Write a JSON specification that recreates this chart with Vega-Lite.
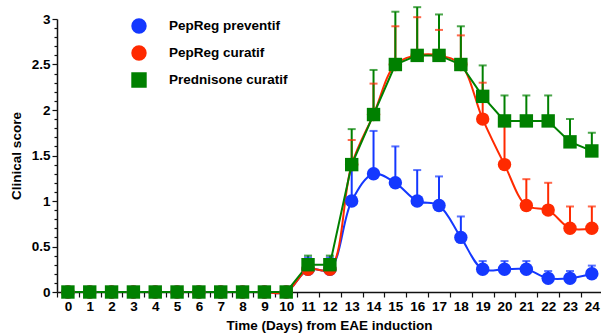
{
  "$schema": "https://vega.github.io/schema/vega-lite/v6.json",
  "autosize": {"type": "none"},
  "width": 544,
  "height": 273,
  "padding": {"left": 57, "top": 19, "right": 0, "bottom": 41},
  "background": "white",
  "config": {
    "view": {"stroke": null},
    "font": "Liberation Sans",
    "axis": {"labelFont": "Liberation Sans", "titleFont": "Liberation Sans", "labelFontWeight": "bold", "titleFontWeight": "bold", "labelFontSize": 13.5, "titleFontSize": 13.5, "labelColor": "#000", "titleColor": "#000", "domainColor": "#111", "tickColor": "#111", "domainWidth": 1.5, "tickWidth": 1.2, "grid": false}
  },
  "datasets": {
    "d": [
      {"series": "PepReg preventif", "day": 0, "mean": 0, "hi": null},
      {"series": "PepReg preventif", "day": 1, "mean": 0, "hi": null},
      {"series": "PepReg preventif", "day": 2, "mean": 0, "hi": null},
      {"series": "PepReg preventif", "day": 3, "mean": 0, "hi": null},
      {"series": "PepReg preventif", "day": 4, "mean": 0, "hi": null},
      {"series": "PepReg preventif", "day": 5, "mean": 0, "hi": null},
      {"series": "PepReg preventif", "day": 6, "mean": 0, "hi": null},
      {"series": "PepReg preventif", "day": 7, "mean": 0, "hi": null},
      {"series": "PepReg preventif", "day": 8, "mean": 0, "hi": null},
      {"series": "PepReg preventif", "day": 9, "mean": 0, "hi": null},
      {"series": "PepReg preventif", "day": 10, "mean": 0, "hi": null},
      {"series": "PepReg preventif", "day": 11, "mean": 0.25, "hi": 0.38},
      {"series": "PepReg preventif", "day": 12, "mean": 0.25, "hi": 0.38},
      {"series": "PepReg preventif", "day": 13, "mean": 1.0, "hi": 1.4},
      {"series": "PepReg preventif", "day": 14, "mean": 1.3, "hi": 1.77},
      {"series": "PepReg preventif", "day": 15, "mean": 1.2, "hi": 1.6},
      {"series": "PepReg preventif", "day": 16, "mean": 1.0, "hi": 1.34},
      {"series": "PepReg preventif", "day": 17, "mean": 0.95, "hi": 1.27},
      {"series": "PepReg preventif", "day": 18, "mean": 0.6, "hi": 0.83},
      {"series": "PepReg preventif", "day": 19, "mean": 0.25, "hi": 0.34},
      {"series": "PepReg preventif", "day": 20, "mean": 0.25, "hi": 0.34},
      {"series": "PepReg preventif", "day": 21, "mean": 0.25, "hi": 0.34},
      {"series": "PepReg preventif", "day": 22, "mean": 0.15, "hi": 0.23},
      {"series": "PepReg preventif", "day": 23, "mean": 0.15, "hi": 0.23},
      {"series": "PepReg preventif", "day": 24, "mean": 0.2, "hi": 0.29},
      {"series": "PepReg curatif", "day": 0, "mean": 0, "hi": null},
      {"series": "PepReg curatif", "day": 1, "mean": 0, "hi": null},
      {"series": "PepReg curatif", "day": 2, "mean": 0, "hi": null},
      {"series": "PepReg curatif", "day": 3, "mean": 0, "hi": null},
      {"series": "PepReg curatif", "day": 4, "mean": 0, "hi": null},
      {"series": "PepReg curatif", "day": 5, "mean": 0, "hi": null},
      {"series": "PepReg curatif", "day": 6, "mean": 0, "hi": null},
      {"series": "PepReg curatif", "day": 7, "mean": 0, "hi": null},
      {"series": "PepReg curatif", "day": 8, "mean": 0, "hi": null},
      {"series": "PepReg curatif", "day": 9, "mean": 0, "hi": null},
      {"series": "PepReg curatif", "day": 10, "mean": 0, "hi": null},
      {"series": "PepReg curatif", "day": 11, "mean": 0.25, "hi": 0.35},
      {"series": "PepReg curatif", "day": 12, "mean": 0.25, "hi": 0.35},
      {"series": "PepReg curatif", "day": 13, "mean": 1.4, "hi": 1.67},
      {"series": "PepReg curatif", "day": 14, "mean": 1.95, "hi": 2.29},
      {"series": "PepReg curatif", "day": 15, "mean": 2.5, "hi": 2.92},
      {"series": "PepReg curatif", "day": 16, "mean": 2.6, "hi": 3.02},
      {"series": "PepReg curatif", "day": 17, "mean": 2.6, "hi": 2.88},
      {"series": "PepReg curatif", "day": 18, "mean": 2.5, "hi": 2.82},
      {"series": "PepReg curatif", "day": 19, "mean": 1.9, "hi": 2.3},
      {"series": "PepReg curatif", "day": 20, "mean": 1.4, "hi": 1.85},
      {"series": "PepReg curatif", "day": 21, "mean": 0.95, "hi": 1.24},
      {"series": "PepReg curatif", "day": 22, "mean": 0.9, "hi": 1.2},
      {"series": "PepReg curatif", "day": 23, "mean": 0.7, "hi": 0.94},
      {"series": "PepReg curatif", "day": 24, "mean": 0.7, "hi": 0.94},
      {"series": "Prednisone curatif", "day": 0, "mean": 0, "hi": null},
      {"series": "Prednisone curatif", "day": 1, "mean": 0, "hi": null},
      {"series": "Prednisone curatif", "day": 2, "mean": 0, "hi": null},
      {"series": "Prednisone curatif", "day": 3, "mean": 0, "hi": null},
      {"series": "Prednisone curatif", "day": 4, "mean": 0, "hi": null},
      {"series": "Prednisone curatif", "day": 5, "mean": 0, "hi": null},
      {"series": "Prednisone curatif", "day": 6, "mean": 0, "hi": null},
      {"series": "Prednisone curatif", "day": 7, "mean": 0, "hi": null},
      {"series": "Prednisone curatif", "day": 8, "mean": 0, "hi": null},
      {"series": "Prednisone curatif", "day": 9, "mean": 0, "hi": null},
      {"series": "Prednisone curatif", "day": 10, "mean": 0, "hi": null},
      {"series": "Prednisone curatif", "day": 11, "mean": 0.3, "hi": 0.4},
      {"series": "Prednisone curatif", "day": 12, "mean": 0.3, "hi": 0.4},
      {"series": "Prednisone curatif", "day": 13, "mean": 1.4, "hi": 1.79},
      {"series": "Prednisone curatif", "day": 14, "mean": 1.95, "hi": 2.44},
      {"series": "Prednisone curatif", "day": 15, "mean": 2.5, "hi": 3.08},
      {"series": "Prednisone curatif", "day": 16, "mean": 2.6, "hi": 3.13},
      {"series": "Prednisone curatif", "day": 17, "mean": 2.6, "hi": 3.05},
      {"series": "Prednisone curatif", "day": 18, "mean": 2.5, "hi": 2.92},
      {"series": "Prednisone curatif", "day": 19, "mean": 2.15, "hi": 2.49},
      {"series": "Prednisone curatif", "day": 20, "mean": 1.88, "hi": 2.16},
      {"series": "Prednisone curatif", "day": 21, "mean": 1.88, "hi": 2.16},
      {"series": "Prednisone curatif", "day": 22, "mean": 1.88, "hi": 2.16},
      {"series": "Prednisone curatif", "day": 23, "mean": 1.65, "hi": 1.9},
      {"series": "Prednisone curatif", "day": 24, "mean": 1.55, "hi": 1.75}
    ]
  },
  "data": {"name": "d"},
  "encoding": {
    "x": {
      "field": "day", "type": "quantitative",
      "scale": {"domain": [-0.5, 24.42], "nice": false, "zero": false},
      "axis": {
        "title": "Time (Days) from EAE induction",
        "values": [-0.5,0,0.5,1,1.5,2,2.5,3,3.5,4,4.5,5,5.5,6,6.5,7,7.5,8,8.5,9,9.5,10,10.5,11,11.5,12,12.5,13,13.5,14,14.5,15,15.5,16,16.5,17,17.5,18,18.5,19,19.5,20,20.5,21,21.5,22,22.5,23,23.5,24],
        "labelExpr": "datum.value % 1 == 0 ? format(datum.value, 'd') : ''",
        "tickColor": {"condition": {"test": "datum.value % 1 == 0", "value": "transparent"}, "value": "#111"},
        "tickSize": 5,
        "labelPadding": 2,
        "labelOverlap": false,
        "labelFlush": false,
        "titlePadding": 6
      }
    },
    "y": {
      "field": "mean", "type": "quantitative",
      "scale": {"domain": [0, 3], "nice": false},
      "axis": {
        "title": "Clinical score",
        "values": [0,0.1,0.2,0.3,0.4,0.5,0.6,0.7,0.8,0.9,1,1.1,1.2,1.3,1.4,1.5,1.6,1.7,1.8,1.9,2,2.1,2.2,2.3,2.4,2.5,2.6,2.7,2.8,2.9,3],
        "labelExpr": "abs(datum.value*2 - round(datum.value*2)) < 0.001 ? format(datum.value, '~g') : ''",
        "tickSize": {"condition": {"test": "abs(datum.value*2 - round(datum.value*2)) < 0.001", "value": 5}, "value": 3},
        "labelPadding": 2,
        "labelOverlap": false,
        "labelFlush": false,
        "titlePadding": 8
      }
    },
    "color": {"field": "series", "type": "nominal", "scale": {"domain": ["PepReg preventif", "PepReg curatif", "Prednisone curatif"], "range": ["#1438ff", "#ff2a00", "#008000"]},
      "legend": {
        "title": null, "orient": "none", "legendX": 74, "legendY": -1,
        "labelFont": "Liberation Sans", "labelFontWeight": "bold", "labelFontSize": 13.5, "labelColor": "#000",
        "labelOffset": 22, "rowPadding": 5, "symbolOpacity": 1,
        "encode": {"symbols": {"update": {
          "shape": {"signal": "datum.label === 'Prednisone curatif' ? 'M-3.5,0H3.5M-0.85,-0.85H0.85V0.85H-0.85Z' : 'circle'"},
          "stroke": {"signal": "datum.label === 'Prednisone curatif' ? '#008000' : 'transparent'"},
          "strokeWidth": {"value": 2},
          "opacity": {"value": 1}
        }}}
      }
    }
  },
  "layer": [
    {
      "mark": {"type": "rule", "strokeWidth": 2},
      "encoding": {"y2": {"field": "hi"}}
    },
    {
      "mark": {"type": "tick", "orient": "horizontal", "size": 8, "thickness": 2},
      "encoding": {"y": {"field": "hi", "type": "quantitative"}}
    },
    {
      "transform": [{"filter": "datum.series !== 'Prednisone curatif'"}],
      "mark": {"type": "line", "interpolate": "catmull-rom", "strokeWidth": 2},
      "encoding": {}
    },
    {
      "transform": [{"filter": "datum.series === 'Prednisone curatif'"}],
      "mark": {"type": "line", "interpolate": "linear", "strokeWidth": 2},
      "encoding": {}
    },
    {
      "mark": {"type": "point", "filled": true, "opacity": 1},
      "encoding": {
        "shape": {"field": "series", "type": "nominal", "scale": {"domain": ["PepReg preventif", "PepReg curatif", "Prednisone curatif"], "range": ["circle", "circle", "square"]}},
        "size": {"field": "series", "type": "nominal", "scale": {"domain": ["PepReg preventif", "PepReg curatif", "Prednisone curatif"], "range": [180, 180, 150]}}
      }
    }
  ]
}
